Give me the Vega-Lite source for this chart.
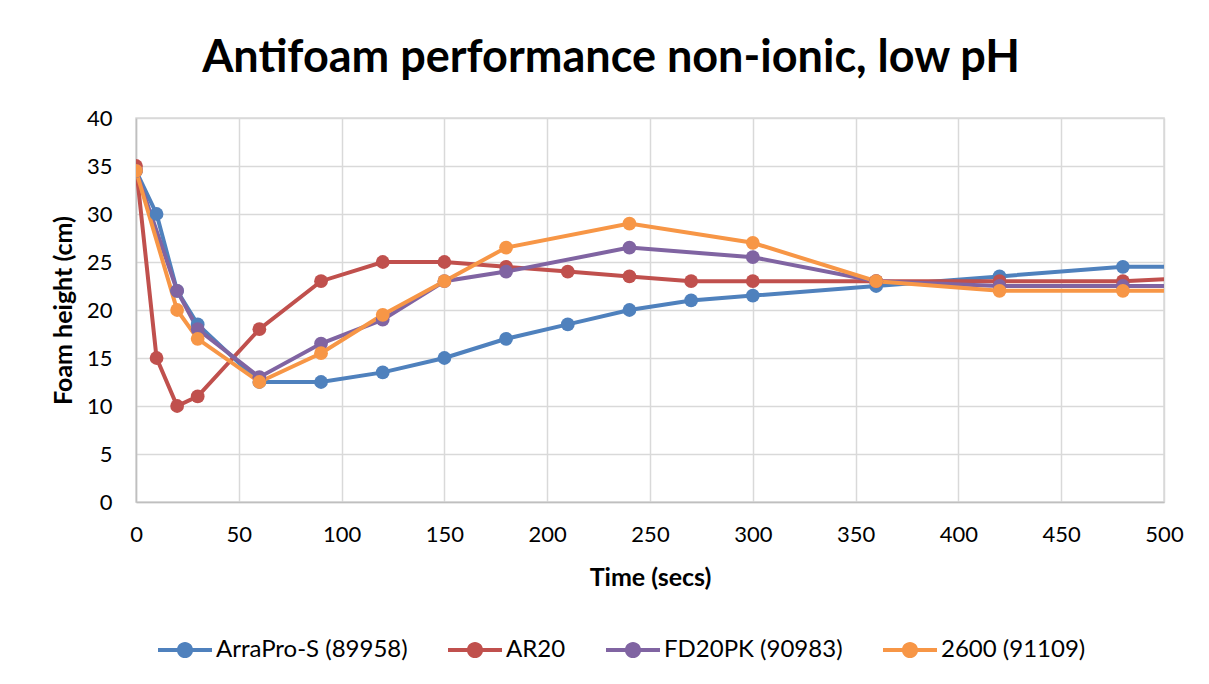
{
  "$schema": "https://vega.github.io/schema/vega-lite/v6.json",
  "width": 1028,
  "height": 384,
  "autosize": {"type": "none"},
  "padding": {"left": 136, "top": 118, "right": 45, "bottom": 182},
  "background": "white",
  "title": {
    "text": "Antifoam performance non-ionic, low pH",
    "font": "Lato",
    "fontSize": 45,
    "fontWeight": "bold",
    "color": "#000000",
    "anchor": "middle",
    "frame": "group",
    "dx": -39,
    "baseline": "alphabetic",
    "offset": -10
  },
  "config": {
    "view": {"stroke": "#d9d9d9", "strokeWidth": 1.5},
    "font": "Lato",
    "axis": {
      "labelFont": "Lato",
      "labelFontSize": 22,
      "labelColor": "#000000",
      "titleFont": "Lato",
      "titleFontSize": 25,
      "titleFontWeight": "bold",
      "titleColor": "#000000",
      "gridColor": "#d9d9d9",
      "gridWidth": 1.5,
      "domainColor": "#bfbfbf",
      "domainWidth": 1.5,
      "ticks": false
    }
  },
  "data": {
    "values": [
      {"series": "ArraPro-S (89958)", "t": 0, "v": 34.5},
      {"series": "ArraPro-S (89958)", "t": 10, "v": 30},
      {"series": "ArraPro-S (89958)", "t": 20, "v": 22},
      {"series": "ArraPro-S (89958)", "t": 30, "v": 18.5},
      {"series": "ArraPro-S (89958)", "t": 60, "v": 12.5},
      {"series": "ArraPro-S (89958)", "t": 90, "v": 12.5},
      {"series": "ArraPro-S (89958)", "t": 120, "v": 13.5},
      {"series": "ArraPro-S (89958)", "t": 150, "v": 15},
      {"series": "ArraPro-S (89958)", "t": 180, "v": 17},
      {"series": "ArraPro-S (89958)", "t": 210, "v": 18.5},
      {"series": "ArraPro-S (89958)", "t": 240, "v": 20},
      {"series": "ArraPro-S (89958)", "t": 270, "v": 21},
      {"series": "ArraPro-S (89958)", "t": 300, "v": 21.5},
      {"series": "ArraPro-S (89958)", "t": 360, "v": 22.5},
      {"series": "ArraPro-S (89958)", "t": 420, "v": 23.5},
      {"series": "ArraPro-S (89958)", "t": 480, "v": 24.5},
      {"series": "ArraPro-S (89958)", "t": 540, "v": 24.5},
      {"series": "AR20", "t": 0, "v": 35},
      {"series": "AR20", "t": 10, "v": 15},
      {"series": "AR20", "t": 20, "v": 10},
      {"series": "AR20", "t": 30, "v": 11},
      {"series": "AR20", "t": 60, "v": 18},
      {"series": "AR20", "t": 90, "v": 23},
      {"series": "AR20", "t": 120, "v": 25},
      {"series": "AR20", "t": 150, "v": 25},
      {"series": "AR20", "t": 180, "v": 24.5},
      {"series": "AR20", "t": 210, "v": 24},
      {"series": "AR20", "t": 240, "v": 23.5},
      {"series": "AR20", "t": 270, "v": 23},
      {"series": "AR20", "t": 300, "v": 23},
      {"series": "AR20", "t": 360, "v": 23},
      {"series": "AR20", "t": 420, "v": 23},
      {"series": "AR20", "t": 480, "v": 23},
      {"series": "AR20", "t": 540, "v": 23.6},
      {"series": "FD20PK (90983)", "t": 0, "v": 34.5},
      {"series": "FD20PK (90983)", "t": 20, "v": 22},
      {"series": "FD20PK (90983)", "t": 30, "v": 18},
      {"series": "FD20PK (90983)", "t": 60, "v": 13},
      {"series": "FD20PK (90983)", "t": 90, "v": 16.5},
      {"series": "FD20PK (90983)", "t": 120, "v": 19},
      {"series": "FD20PK (90983)", "t": 150, "v": 23},
      {"series": "FD20PK (90983)", "t": 180, "v": 24},
      {"series": "FD20PK (90983)", "t": 240, "v": 26.5},
      {"series": "FD20PK (90983)", "t": 300, "v": 25.5},
      {"series": "FD20PK (90983)", "t": 360, "v": 23},
      {"series": "FD20PK (90983)", "t": 420, "v": 22.5},
      {"series": "FD20PK (90983)", "t": 480, "v": 22.5},
      {"series": "FD20PK (90983)", "t": 540, "v": 22.5},
      {"series": "2600 (91109)", "t": 0, "v": 34.5},
      {"series": "2600 (91109)", "t": 20, "v": 20},
      {"series": "2600 (91109)", "t": 30, "v": 17},
      {"series": "2600 (91109)", "t": 60, "v": 12.5},
      {"series": "2600 (91109)", "t": 90, "v": 15.5},
      {"series": "2600 (91109)", "t": 120, "v": 19.5},
      {"series": "2600 (91109)", "t": 150, "v": 23},
      {"series": "2600 (91109)", "t": 180, "v": 26.5},
      {"series": "2600 (91109)", "t": 240, "v": 29},
      {"series": "2600 (91109)", "t": 300, "v": 27},
      {"series": "2600 (91109)", "t": 360, "v": 23},
      {"series": "2600 (91109)", "t": 420, "v": 22},
      {"series": "2600 (91109)", "t": 480, "v": 22},
      {"series": "2600 (91109)", "t": 540, "v": 22}
    ]
  },
  "encoding": {
    "x": {
      "field": "t",
      "type": "quantitative",
      "scale": {"domain": [0, 500], "nice": false},
      "axis": {"title": "Time (secs)", "values": [0, 50, 100, 150, 200, 250, 300, 350, 400, 450, 500], "labelFlush": false, "labelPadding": 22, "titlePadding": 20}
    },
    "y": {
      "field": "v",
      "type": "quantitative",
      "scale": {"domain": [0, 40], "nice": false},
      "axis": {"title": "Foam height (cm)", "values": [0, 5, 10, 15, 20, 25, 30, 35, 40], "labelPadding": 24, "titlePadding": 10}
    },
    "color": {
      "field": "series",
      "type": "nominal",
      "scale": {
        "domain": ["ArraPro-S (89958)", "AR20", "FD20PK (90983)", "2600 (91109)"],
        "range": ["#4F81BD", "#C0504D", "#8064A2", "#F79646"]
      },
      "legend": {
        "title": null,
        "orient": "none",
        "direction": "horizontal",
        "legendX": 22,
        "legendY": 505,
        "labelFont": "Lato",
        "labelFontSize": 24,
        "labelLimit": 500,
        "labelColor": "#000000",
        "symbolType": "M-1,-0.075L1,-0.075L1,0.075L-1,0.075Z M-0.3,0A0.3,0.3 0 1,1 0.3,0A0.3,0.3 0 1,1 -0.3,0Z",
        "symbolSize": 2916,
        "symbolStrokeWidth": 0,
        "symbolOpacity": 1,
        "labelOffset": 4,
        "columnPadding": 40
      }
    },
    "order": {"field": "t", "type": "quantitative"}
  },
  "layer": [
    {"mark": {"type": "line", "strokeWidth": 4, "clip": true}},
    {"mark": {"type": "point", "shape": "circle", "filled": true, "opacity": 1, "size": 190, "clip": true}}
  ]
}
